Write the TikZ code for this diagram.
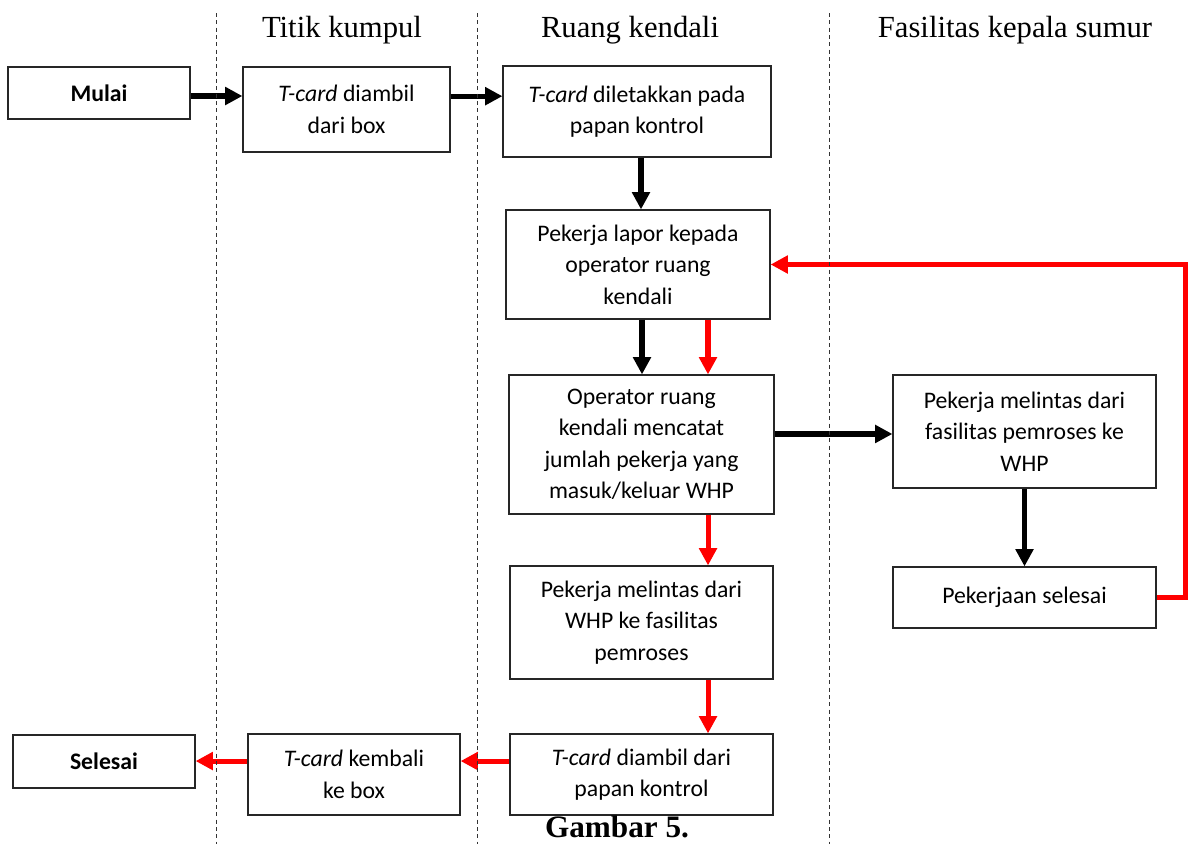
\documentclass[tikz,border=0pt]{standalone}
\usepackage{fontspec}
\setmainfont{Carlito}
\newfontfamily\headfont{Liberation Serif}
\usetikzlibrary{arrows.meta}

\tikzset{every picture/.style={line width=0.75pt}}
\tikzset{
  box/.style={draw=black!85, line width=0.9pt, align=center, inner sep=0.75pt, font=\fontsize{17.8}{23.6}\selectfont},
  blkarrow/.style={draw=black, line width=3.8pt, -{Triangle[length=13pt,width=13pt]}},
  redarrow/.style={draw=red, line width=3.8pt, -{Triangle[length=13pt,width=13pt]}},
  lane/.style={draw=black!80, line width=0.7pt, dash pattern=on 3pt off 2.5pt},
  lanetitle/.style={anchor=base, inner sep=0.75pt, font=\headfont\fontsize{23}{27}\selectfont},
}

\begin{document}
\begin{tikzpicture}[x=0.75pt,y=0.75pt,yscale=-1,xscale=1]
\useasboundingbox (0,0) rectangle (1188,844);

%Shape: Rectangle
\node[box, minimum width=136.5pt, minimum height=39pt] (mulai) at (99,93) {\textbf{Mulai}};
%Shape: Rectangle
\node[box, minimum width=155.25pt, minimum height=63.75pt] (ambil) at (346.5,109.5) {\textit{T-card} diambil\\dari box};
%Shape: Rectangle
\node[box, minimum width=201pt, minimum height=68.25pt] (letak) at (637,111.5) {\textit{T-card} diletakkan pada\\papan kontrol};
%Shape: Rectangle
\node[box, minimum width=198pt, minimum height=81.75pt] (lapor) at (638,264.5) {Pekerja lapor kepada\\operator ruang\\kendali};
%Shape: Rectangle
\node[box, minimum width=198.75pt, minimum height=104.25pt] (catat) at (641.5,444.5) {Operator ruang\\kendali mencatat\\jumlah pekerja yang\\masuk/keluar WHP};
%Shape: Rectangle
\node[box, minimum width=197.25pt, minimum height=84.75pt] (lintasB) at (1024.5,431.5) {Pekerja melintas dari\\fasilitas pemroses ke\\WHP};
%Shape: Rectangle
\node[box, minimum width=197.25pt, minimum height=45.75pt] (kerja) at (1024.5,597.5) {Pekerjaan selesai};
%Shape: Rectangle
\node[box, minimum width=197.25pt, minimum height=84.75pt] (lintasA) at (641.5,622.5) {Pekerja melintas dari\\WHP ke fasilitas\\pemroses};
%Shape: Rectangle
\node[box, minimum width=197.25pt, minimum height=60.75pt] (ambilKartu) at (641.5,774.5) {\textit{T-card} diambil dari\\papan kontrol};
%Shape: Rectangle
\node[box, minimum width=159pt, minimum height=60.75pt] (kembali) at (354,774.5) {\textit{T-card} kembali\\ke box};
%Shape: Rectangle
\node[box, minimum width=136.5pt, minimum height=39.75pt] (selesai) at (104,761.5) {\textbf{Selesai}};

%Straight Lines
\draw[blkarrow] ([yshift=2.25pt]mulai.east) -- ([yshift=2.25pt]mulai.east -| ambil.west);
\draw[blkarrow] ([yshift=-10pt]ambil.east) -- ([yshift=-10pt]ambil.east -| letak.west);
\draw[blkarrow] ([xshift=3pt]letak.south) -- ([xshift=3pt]letak.south |- lapor.north);
\draw[blkarrow] ([xshift=3pt]lapor.south) -- ([xshift=3pt]lapor.south |- catat.north);
\draw[redarrow] ([xshift=52.5pt]lapor.south) -- ([xshift=52.5pt]lapor.south |- catat.north);
\draw[blkarrow] ([yshift=-7.9pt]catat.east) -- ([yshift=-7.9pt]catat.east -| lintasB.west);
\draw[blkarrow] (lintasB) -- (kerja);
\draw[redarrow] ([xshift=49.9pt]catat.south) -- ([xshift=49.9pt]catat.south |- lintasA.north);
\draw[redarrow] ([xshift=49.9pt]lintasA.south) -- ([xshift=49.9pt]lintasA.south |- ambilKartu.north);
\draw[redarrow] ([yshift=-10.1pt]ambilKartu.west) -- ([yshift=-10.1pt]ambilKartu.west -| kembali.east);
\draw[redarrow] ([yshift=-10.1pt]kembali.west) -- ([yshift=-10.1pt]kembali.west -| selesai.east);
%Loop back
\draw[redarrow] (kerja.east) -- ++(29,0) |- (lapor.east);

%Dashed lanes
\draw[lane] (216,13) -- (216,844);
\draw[lane] (477,13) -- (477,844);
\draw[lane] (829,13) -- (829,844);

% Text Node
\node[lanetitle] (titik) at (342,37) {Titik kumpul};
% Text Node
\node[lanetitle] (ruang) at (630,37) {Ruang kendali};
% Text Node
\node[lanetitle] (fasilitas) at (1015,37) {Fasilitas kepala sumur};
% Text Node
\node[lanetitle, inner sep=0pt, font=\headfont\bfseries\fontsize{23.4}{28}\selectfont] (gambar) at (617,837) {Gambar 5.};

\end{tikzpicture}
\end{document}
